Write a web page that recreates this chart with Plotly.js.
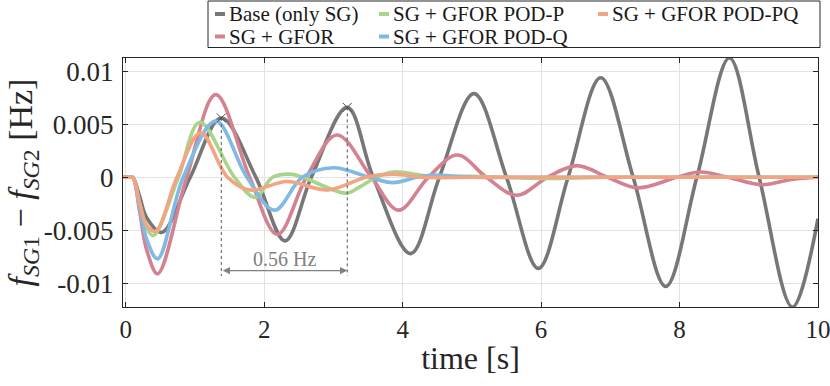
<!DOCTYPE html>
<html>
<head>
<meta charset="utf-8">
<script src="https://cdn.plot.ly/plotly-3.0.1.min.js"></script>
<style>
  html, body { margin: 0; padding: 0; background: #fff; }
  #chart { width: 830px; height: 386px; }
</style>
</head>
<body>
<div id="chart"></div>
<script>
// Frequency difference between SG1 and SG2

// Base (only SG)
const baseTime = [-0.04, 0.05, 0.1, 0.2, 0.3, 0.52, 0.93, 1.38, 1.88, 2.30, 2.68, 3.20, 3.575, 4.115, 4.53, 5.03, 5.50, 5.96, 6.39, 6.86, 7.33, 7.80, 8.25, 8.72, 9.15, 9.63, 10.0];
const baseVal  = [0, 0, 0, -0.0018, -0.0038, -0.0052, 0, 0.0056, 0, -0.0060, 0, 0.0066, 0, -0.0072, 0, 0.0079, 0, -0.0086, 0, 0.0094, 0, -0.0103, 0, 0.01126, 0, -0.01224, -0.0039];

// SG + GFOR
const gforTime = [-0.04, 0.05, 0.1, 0.2, 0.3, 0.46, 0.88, 1.30, 1.79, 2.19, 2.61, 3.05, 3.55, 3.94, 4.37, 4.79, 5.21, 5.65, 6.09, 6.52, 6.96, 7.40, 7.96, 8.30, 8.70, 9.19, 9.62, 10.0];
const gforVal  = [0, 0, 0, -0.0032, -0.0068, -0.0091, 0, 0.0078, 0, -0.0054, 0, 0.0040, 0, -0.0031, 0, 0.0021, 0, -0.0017, 0, 0.0011, 0, -0.0010, 0, 0.0005, 0, -0.0007, -0.0002, 0];

// SG + GFOR POD-P
const podPTime = [-0.04, 0.05, 0.1, 0.2, 0.3, 0.40, 0.76, 1.07, 1.57, 1.87, 2.12, 2.38, 2.56, 3.19, 3.38, 3.62, 3.86, 4.4, 5.0, 5.5, 6.0, 7.0, 8.0, 9.0, 10.0];
const podPVal  = [0, 0, 0, -0.0025, -0.0048, -0.0055, 0, 0.0052, 0, -0.0019, 0, 0.0003, 0, -0.0015, -0.0009, 0, 0.0005, 0.0001, 0.0001, 0, -0.0001, 0, 0, 0, 0];

// SG + GFOR POD-Q
const podQTime = [-0.04, 0.05, 0.1, 0.2, 0.3, 0.46, 0.83, 1.30, 1.75, 2.15, 2.55, 3.00, 3.52, 3.86, 4.2, 4.4, 5.0, 6.0, 7.0, 8.0, 9.0, 10.0];
const podQVal  = [0, 0, 0, -0.0028, -0.0058, -0.0077, 0, 0.0053, 0, -0.0031, 0, 0.0009, 0, -0.0005, 0, 0.0002, 0, 0, 0, 0, 0, 0];

// SG + GFOR POD-PQ
const podPQTime = [-0.04, 0.05, 0.1, 0.2, 0.3, 0.43, 0.74, 1.08, 1.47, 1.79, 2.33, 2.92, 3.47, 3.86, 4.3, 5.0, 6.0, 7.0, 8.0, 9.0, 10.0];
const podPQVal  = [0, 0, 0, -0.0024, -0.0045, -0.0051, 0, 0.0042, 0, -0.0012, -0.0004, -0.0012, 0, 0.0003, 0, 0, 0, 0, 0, 0, 0];

// two marked peaks of the base case (period measurement)
const peakTime = [1.38, 3.20];
const peakVal  = [0.0056, 0.0066];
const periodLabel = '0.56 Hz';

const xTicks = [0, 2, 4, 6, 8, 10];
const xTickText = ['0', '2', '4', '6', '8', '10'];
const yTicks = [-0.01, -0.005, 0, 0.005, 0.01];
const yTickText = ['-0.01', '-0.005', '0', '0.005', '0.01'];

const serif = '"Liberation Serif", "DejaVu Serif", serif';
const W = 830, H = 386;
const M = { l: 123, r: 12, t: 58, b: 79 };

// pixel -> paper helpers for the hand-made legend box
const pw = W - M.l - M.r, ph = H - M.t - M.b;
const px = v => (v - M.l) / pw;
const py = v => (H - M.b - v) / ph;

function lineTrace(x, y, name, color) {
    return {
        x: x, y: y, name: name, type: 'scatter', mode: 'lines',
        line: { color: color, width: 3.6, shape: 'spline', smoothing: 1 },
        showlegend: false, hoverinfo: 'x+y+name'
    };
}

// drawn in this order (orange on top)
const series = [
    { x: baseTime,  y: baseVal,  name: 'Base (only SG)',    color: '#777777', col: 0, row: 0 },
    { x: gforTime,  y: gforVal,  name: 'SG + GFOR',         color: '#d4828f', col: 0, row: 1 },
    { x: podPTime,  y: podPVal,  name: 'SG + GFOR POD-P',   color: '#a9d48b', col: 1, row: 0 },
    { x: podQTime,  y: podQVal,  name: 'SG + GFOR POD-Q',   color: '#80b9e3', col: 1, row: 1 },
    { x: podPQTime, y: podPQVal, name: 'SG + GFOR POD-PQ',  color: '#f2a582', col: 2, row: 0 }
];

const traces = series.map(s => lineTrace(s.x, s.y, s.name, s.color));

traces.push({
    x: peakTime, y: peakVal, type: 'scatter', mode: 'markers',
    marker: { symbol: 'x-thin', size: 9, line: { width: 1, color: '#4d4d4d' } },
    showlegend: false, hoverinfo: 'skip'
});

const dashBottom = -0.0093;
const arrowY = -0.0088;

const shapes = peakTime.map((t, i) => ({
    type: 'line', xref: 'x', yref: 'y',
    x0: t, x1: t, y0: peakVal[i], y1: dashBottom,
    line: { color: '#555555', width: 1, dash: 'dot' }
}));

// legend frame
const legColX = [215, 379, 598];
const legRowY = [14, 36.5];
shapes.push({
    type: 'rect', xref: 'paper', yref: 'paper',
    x0: px(208), x1: px(820), y0: py(1), y1: py(47.5),
    line: { color: '#262626', width: 1 }, fillcolor: '#ffffff', layer: 'above'
});

const annotations = [];
series.forEach(s => {
    const x0 = legColX[s.col], y0 = legRowY[s.row];
    shapes.push({
        type: 'line', xref: 'paper', yref: 'paper',
        x0: px(x0), x1: px(x0 + 10), y0: py(y0), y1: py(y0),
        line: { color: s.color, width: 4 }, layer: 'above'
    });
    annotations.push({
        xref: 'paper', yref: 'paper', x: px(x0 + 12), y: py(y0),
        xanchor: 'left', yanchor: 'middle', showarrow: false,
        text: s.name, font: { family: serif, size: 21, color: '#1a1a1a' }
    });
});

// double arrow between the two peaks
annotations.push({
    xref: 'x', yref: 'y', axref: 'x', ayref: 'y',
    x: peakTime[1], y: arrowY, ax: peakTime[0], ay: arrowY,
    text: '', showarrow: true, arrowside: 'end+start',
    arrowhead: 2, arrowsize: 1.2, arrowwidth: 1.2, arrowcolor: '#808080'
});
annotations.push({
    xref: 'x', yref: 'y',
    x: (peakTime[0] + peakTime[1]) / 2, y: arrowY, yshift: 12,
    text: periodLabel, showarrow: false,
    font: { family: serif, size: 20, color: '#808080' }
});

const layout = {
    width: W, height: H,
    margin: M,
    paper_bgcolor: '#ffffff',
    plot_bgcolor: '#ffffff',
    font: { family: serif, color: '#262626' },
    showlegend: false,
    xaxis: {
        range: [-0.04, 10],
        tickvals: xTicks, ticktext: xTickText,
        ticks: 'inside', ticklen: 5, tickcolor: '#262626',
        showline: true, linecolor: '#262626', linewidth: 1, mirror: 'ticks',
        showgrid: true, gridcolor: '#e2e2e2', gridwidth: 1,
        zeroline: false,
        ticklabeloverflow: 'allow',
        tickfont: { family: serif, size: 25, color: '#262626' },
        title: { text: 'time [s]', font: { family: serif, size: 32, color: '#262626' }, standoff: 4 }
    },
    yaxis: {
        range: [-0.01224, 0.01126],
        tickvals: yTicks, ticktext: yTickText,
        ticks: 'inside', ticklen: 5, tickcolor: '#262626',
        showline: true, linecolor: '#262626', linewidth: 1, mirror: 'ticks',
        showgrid: true, gridcolor: '#e2e2e2', gridwidth: 1,
        zeroline: false,
        ticklabelstandoff: 3,
        tickfont: { family: serif, size: 27, color: '#262626' },
        title: {
            text: '<i>f</i><sub><i>SG</i>1</sub> − <i>f</i><sub><i>SG</i>2</sub> [Hz]',
            font: { family: serif, size: 34, color: '#262626' }, standoff: 0
        }
    },
    shapes: shapes,
    annotations: annotations
};

Plotly.newPlot('chart', traces, layout, { displayModeBar: false, staticPlot: true });
</script>
</body>
</html>
